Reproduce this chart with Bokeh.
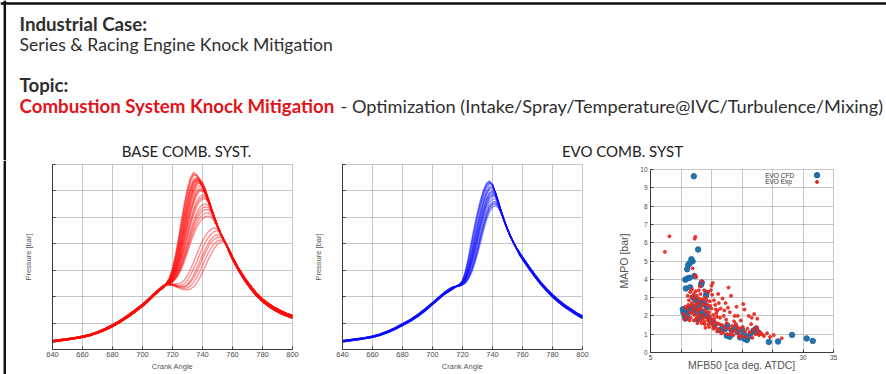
from bokeh.plotting import figure
from bokeh.layouts import column, row
from bokeh.models import Range1d, ColumnDataSource, FixedTicker, Label, Span
from bokeh.embed import file_html
from bokeh.resources import INLINE

# ---------------- slide text ----------------
case_heading = "Industrial Case:"
case_text = "Series & Racing Engine Knock Mitigation"
topic_heading = "Topic:"
topic_red = "Combustion System Knock Mitigation"
topic_rest = "- Optimization (Intake/Spray/Temperature@IVC/Turbulence/Mixing)"
panel_titles = ["BASE COMB. SYST.", "EVO COMB. SYST"]

# ---------------- cylinder pressure traces [bar] vs crank angle ----------------
crank_ticks = [640, 660, 680, 700, 720, 740, 760, 780, 800]
pressure_ticks = [0, 10, 20, 30, 40, 50, 60, 70]

comp_angles = [640, 645, 650, 655, 660, 665, 670, 675, 680, 685, 690, 695, 700, 704, 708, 712, 714]
burn_angles = [716, 718, 720, 722, 724, 726, 728, 730, 732, 734, 736, 738, 740, 742, 744, 746, 748, 750, 752, 754, 756]
tail_angles = [758, 760, 764, 768, 772, 776, 780, 784, 788, 792, 796, 800]

# base combustion system: compression (3 cycle spreads), combustion per cycle, expansion (3 spreads)
base_comp = [
    [2.9, 3.3, 3.7, 4.1, 4.6, 5.3, 6.2, 7.3, 8.7, 10.3, 12.1, 14.2, 16.4, 18.4, 20.6, 22.6, 23.5],
    [3.1, 3.5, 3.9, 4.3, 4.8, 5.5, 6.4, 7.6, 9.0, 10.6, 12.5, 14.6, 16.8, 18.8, 21.0, 23.0, 23.8],
    [3.3, 3.7, 4.1, 4.5, 5.0, 5.7, 6.7, 7.9, 9.3, 10.9, 12.8, 14.9, 17.1, 19.1, 21.3, 23.3, 24.1],
]
base_burn = [
    [25.2, 27.2, 30.8, 35.8, 42.0, 49.0, 55.5, 61.0, 65.0, 67.0, 66.2, 64.3, 61.8, 59.0, 55.8, 52.6, 49.5, 46.7, 44.1, 41.7, 39.6],
    [25.1, 27.0, 30.4, 35.2, 41.2, 48.1, 54.6, 60.2, 64.3, 66.4, 66.0, 64.2, 61.8, 59.0, 55.8, 52.6, 49.5, 46.7, 44.1, 41.7, 39.6],
    [25.1, 26.8, 30.0, 34.6, 40.5, 47.2, 53.8, 59.3, 63.6, 65.9, 65.8, 64.2, 61.8, 59.0, 55.9, 52.7, 49.6, 46.7, 44.1, 41.7, 39.6],
    [25.0, 26.5, 29.4, 33.6, 39.2, 45.5, 51.8, 57.4, 61.8, 64.4, 65.0, 63.9, 61.7, 58.9, 55.8, 52.6, 49.5, 46.6, 44.0, 41.6, 39.5],
    [25.0, 26.4, 29.1, 33.2, 38.6, 44.7, 51.0, 56.6, 61.0, 63.8, 64.5, 63.6, 61.5, 58.8, 55.8, 52.6, 49.5, 46.6, 44.0, 41.6, 39.5],
    [25.0, 26.3, 28.9, 32.8, 38.0, 44.0, 50.2, 55.8, 60.3, 63.2, 64.0, 63.3, 61.4, 58.8, 55.8, 52.7, 49.6, 46.7, 44.1, 41.7, 39.6],
    [24.9, 26.0, 28.3, 31.8, 36.6, 42.4, 48.6, 54.4, 59.3, 62.9, 64.7, 64.8, 63.3, 60.6, 57.0, 53.3, 49.9, 46.9, 44.2, 41.8, 39.6],
    [24.9, 25.9, 28.1, 31.5, 36.1, 41.7, 47.7, 53.4, 58.2, 61.8, 63.7, 63.9, 62.6, 60.2, 56.8, 53.2, 49.8, 46.8, 44.1, 41.7, 39.5],
    [24.9, 25.9, 28.0, 31.2, 35.6, 41.0, 46.8, 52.4, 57.2, 60.8, 62.8, 63.1, 62.0, 59.8, 56.7, 53.2, 49.8, 46.8, 44.1, 41.7, 39.5],
    [24.9, 25.8, 27.7, 30.7, 34.9, 40.1, 45.9, 51.6, 56.6, 60.6, 63.1, 64.0, 63.0, 60.4, 56.9, 53.3, 49.9, 46.8, 44.2, 41.7, 39.6],
    [24.8, 25.7, 27.5, 30.3, 34.3, 39.3, 44.9, 50.5, 55.4, 59.4, 61.9, 63.0, 62.3, 60.0, 56.8, 53.3, 49.9, 46.8, 44.1, 41.7, 39.5],
    [24.8, 25.6, 27.3, 30.0, 33.8, 38.6, 44.0, 49.4, 54.3, 58.2, 60.8, 62.0, 61.6, 59.7, 56.8, 53.3, 49.9, 46.8, 44.1, 41.7, 39.5],
    [24.8, 25.5, 27.0, 29.5, 33.0, 37.6, 42.8, 48.0, 52.8, 56.8, 59.6, 60.9, 60.7, 59.2, 56.5, 53.2, 49.8, 46.7, 44.0, 41.6, 39.5],
    [24.8, 25.4, 26.8, 29.2, 32.6, 37.0, 42.0, 47.2, 52.0, 56.0, 58.9, 60.3, 60.4, 59.0, 56.4, 53.2, 49.8, 46.8, 44.1, 41.6, 39.5],
    [24.8, 25.4, 26.7, 28.9, 32.2, 36.4, 41.3, 46.4, 51.2, 55.3, 58.2, 59.8, 60.0, 58.8, 56.4, 53.2, 49.9, 46.8, 44.1, 41.6, 39.5],
    [24.8, 25.3, 26.5, 28.5, 31.4, 35.2, 39.7, 44.5, 49.1, 53.1, 56.0, 57.8, 58.5, 58.1, 56.2, 53.1, 49.8, 46.7, 44.0, 41.6, 39.5],
    [24.7, 25.2, 26.3, 28.2, 31.0, 34.6, 38.9, 43.5, 48.0, 52.0, 55.0, 56.8, 57.7, 57.5, 55.9, 53.0, 49.8, 46.8, 44.1, 41.6, 39.5],
    [24.7, 25.2, 26.2, 28.0, 30.6, 34.0, 38.1, 42.6, 47.0, 50.9, 53.9, 55.9, 56.9, 57.0, 55.6, 52.9, 49.8, 46.8, 44.1, 41.7, 39.6],
    [24.7, 25.1, 26.0, 27.5, 29.8, 32.9, 36.6, 40.7, 44.8, 48.5, 51.5, 53.6, 54.8, 55.0, 54.4, 52.5, 49.6, 46.7, 44.0, 41.6, 39.5],
    [24.7, 25.0, 25.9, 27.3, 29.4, 32.3, 35.8, 39.7, 43.7, 47.3, 50.2, 52.3, 53.6, 53.9, 53.7, 52.0, 49.4, 46.6, 44.0, 41.6, 39.5],
    [24.7, 25.0, 25.8, 27.1, 29.1, 31.8, 35.1, 38.8, 42.6, 46.1, 49.0, 51.1, 52.4, 52.9, 53.0, 51.6, 49.2, 46.5, 43.9, 41.6, 39.5],
    [24.7, 24.9, 25.6, 26.8, 28.7, 31.2, 34.3, 37.8, 41.4, 44.7, 47.5, 49.6, 50.9, 51.6, 51.7, 50.8, 48.8, 46.3, 43.8, 41.5, 39.4],
    [24.7, 24.9, 25.5, 26.6, 28.3, 30.6, 33.5, 36.8, 40.2, 43.4, 46.1, 48.1, 49.5, 50.3, 50.5, 50.0, 48.4, 46.1, 43.7, 41.4, 39.4],
    [24.6, 24.7, 24.8, 24.8, 24.9, 25.3, 26.3, 28.0, 30.3, 33.0, 35.8, 38.5, 41.0, 43.0, 44.6, 45.6, 46.0, 45.6, 44.0, 41.8, 39.6],
    [24.6, 24.6, 24.6, 24.4, 24.2, 24.3, 24.9, 26.2, 28.1, 30.5, 33.1, 35.8, 38.4, 40.6, 42.4, 43.8, 44.7, 45.0, 44.2, 42.0, 39.7],
    [24.6, 24.6, 24.5, 24.2, 23.8, 23.6, 23.8, 24.6, 26.1, 28.2, 30.6, 33.2, 35.8, 38.2, 40.3, 41.9, 43.0, 43.5, 43.2, 41.8, 39.7],
    [24.6, 24.6, 24.5, 24.3, 24.0, 23.8, 23.8, 24.3, 25.4, 27.0, 29.1, 31.6, 34.2, 36.7, 38.9, 40.6, 41.8, 42.4, 42.5, 41.6, 39.7],
    [24.6, 24.5, 24.3, 24.0, 23.6, 23.3, 23.2, 23.4, 24.1, 25.3, 27.1, 29.3, 31.8, 34.3, 36.7, 38.6, 40.1, 41.1, 41.5, 41.1, 39.6],
    [24.6, 24.5, 24.2, 23.8, 23.3, 22.9, 22.6, 22.6, 22.9, 23.7, 25.0, 26.9, 29.2, 31.7, 34.2, 36.5, 38.4, 39.8, 40.7, 40.8, 39.6],
]
base_tail = [
    [36.6, 34.2, 29.9, 26.2, 23.1, 20.3, 18.1, 16.4, 14.9, 13.7, 12.7, 11.9],
    [37.0, 34.6, 30.3, 26.7, 23.6, 20.8, 18.6, 16.9, 15.4, 14.2, 13.2, 12.4],
    [37.4, 35.0, 30.8, 27.2, 24.1, 21.3, 19.1, 17.4, 15.9, 14.7, 13.7, 12.9],
]
base_spread = [1, 2, 0, 2, 0, 1, 0, 1, 2, 1, 0, 2, 0, 2, 1, 2, 1, 0, 1, 0, 2, 1, 0, 1, 0, 2, 1, 0, 2]

# evolved combustion system
evo_comp = [
    [2.9, 3.3, 3.7, 4.1, 4.6, 5.4, 6.4, 7.6, 9.1, 10.6, 12.4, 14.6, 17.0, 19.0, 20.9, 22.4, 23.1],
    [3.1, 3.5, 3.9, 4.3, 4.8, 5.6, 6.6, 7.9, 9.4, 10.9, 12.8, 15.0, 17.4, 19.4, 21.3, 22.8, 23.4],
    [3.3, 3.7, 4.1, 4.5, 5.0, 5.8, 6.9, 8.2, 9.7, 11.2, 13.1, 15.3, 17.7, 19.7, 21.6, 23.1, 23.7],
]
evo_burn = [
    [24.0, 24.6, 26.0, 29.8, 35.0, 41.0, 46.8, 52.0, 56.6, 60.4, 63.0, 63.8, 62.3, 59.0, 55.2, 51.6, 48.3, 45.3, 42.7, 40.3, 38.2],
    [24.0, 24.5, 25.9, 29.4, 34.3, 40.0, 45.8, 51.1, 55.8, 59.7, 62.5, 63.5, 62.3, 59.0, 55.2, 51.6, 48.3, 45.3, 42.7, 40.3, 38.2],
    [24.0, 24.5, 25.8, 29.0, 33.6, 39.0, 44.8, 50.2, 55.0, 59.0, 62.0, 63.2, 62.4, 59.1, 55.3, 51.7, 48.4, 45.4, 42.8, 40.4, 38.3],
    [24.0, 24.5, 25.6, 28.2, 32.4, 37.6, 43.2, 48.6, 53.6, 57.9, 61.2, 62.9, 62.3, 59.2, 55.4, 51.7, 48.4, 45.4, 42.8, 40.4, 38.3],
    [24.0, 24.5, 25.5, 27.8, 31.6, 36.4, 41.8, 47.0, 52.0, 56.4, 59.8, 61.8, 62.0, 59.5, 55.6, 51.8, 48.4, 45.4, 42.8, 40.4, 38.3],
    [24.0, 24.4, 25.4, 27.6, 31.2, 35.8, 41.1, 46.3, 51.3, 55.7, 59.1, 61.2, 61.5, 59.3, 55.6, 51.8, 48.4, 45.4, 42.8, 40.4, 38.3],
    [24.0, 24.4, 25.3, 27.4, 30.8, 35.3, 40.4, 45.6, 50.6, 55.0, 58.5, 60.6, 61.0, 59.2, 55.6, 51.9, 48.5, 45.5, 42.9, 40.4, 38.3],
    [24.0, 24.4, 25.2, 27.0, 30.1, 34.2, 39.0, 44.0, 49.0, 53.5, 57.1, 59.4, 60.0, 58.9, 55.6, 51.9, 48.5, 45.5, 42.9, 40.5, 38.3],
    [23.9, 24.3, 25.1, 26.8, 29.8, 33.8, 38.5, 43.5, 48.4, 52.9, 56.6, 59.0, 59.6, 58.6, 55.5, 51.9, 48.5, 45.5, 42.9, 40.5, 38.3],
    [23.9, 24.3, 25.0, 26.6, 29.4, 33.2, 37.7, 42.6, 47.5, 52.0, 55.8, 58.3, 59.0, 58.3, 55.4, 51.8, 48.5, 45.5, 42.8, 40.4, 38.3],
    [23.9, 24.3, 24.9, 26.4, 29.1, 32.7, 37.1, 41.9, 46.7, 51.2, 55.0, 57.6, 58.5, 58.0, 55.3, 51.8, 48.5, 45.5, 42.8, 40.4, 38.3],
    [23.9, 24.3, 24.9, 26.3, 28.8, 32.3, 36.5, 41.2, 46.0, 50.5, 54.3, 56.9, 58.0, 57.8, 55.2, 51.8, 48.5, 45.5, 42.9, 40.5, 38.3],
    [23.9, 24.2, 24.8, 26.0, 28.2, 31.4, 35.3, 39.8, 44.5, 49.0, 52.9, 55.7, 56.9, 57.0, 54.9, 51.7, 48.4, 45.5, 42.9, 40.5, 38.3],
    [23.9, 24.2, 24.7, 25.7, 27.6, 30.5, 34.2, 38.5, 43.1, 47.6, 51.5, 54.4, 55.8, 56.0, 54.5, 51.6, 48.4, 45.4, 42.8, 40.4, 38.3],
    [23.8, 24.1, 24.6, 25.5, 27.3, 30.1, 33.6, 37.8, 42.4, 46.9, 50.8, 53.8, 55.2, 55.5, 54.2, 51.5, 48.3, 45.4, 42.8, 40.4, 38.3],
    [23.8, 24.1, 24.5, 25.4, 27.1, 29.7, 33.1, 37.2, 41.7, 46.2, 50.2, 53.2, 54.7, 55.0, 54.0, 51.4, 48.3, 45.4, 42.8, 40.4, 38.3],
    [23.8, 24.0, 24.4, 25.1, 26.6, 29.0, 32.2, 36.1, 40.5, 45.0, 49.0, 52.1, 53.9, 54.4, 53.6, 51.2, 48.2, 45.3, 42.7, 40.4, 38.3],
]
evo_tail = [
    [35.9, 34.1, 30.8, 27.7, 24.8, 22.2, 19.9, 17.9, 16.1, 14.6, 13.1, 11.8],
    [36.3, 34.5, 31.2, 28.1, 25.2, 22.6, 20.3, 18.3, 16.5, 15.0, 13.5, 12.2],
    [36.7, 34.9, 31.6, 28.5, 25.6, 23.0, 20.7, 18.7, 16.9, 15.4, 13.9, 12.6],
]
evo_spread = [1, 2, 0, 0, 2, 1, 1, 2, 1, 0, 2, 1, 0, 2, 0, 1, 2]

# ---------------- knock intensity vs combustion phasing ----------------
mfb50_labelled = [5, 30, 35]
mfb50_unlabelled = [10, 15, 20, 25]
mapo_ticks = [0, 1, 2, 3, 4, 5, 6, 7, 8, 9, 10]
legend_names = ["EVO CFD", "EVO Exp"]

# (MFB50 [ca deg ATDC], MAPO [bar])
cfd_points = [
    (12.1, 9.63), (12.8, 5.63), (11.7, 5.1), (11.9, 4.98), (11.4, 4.88), (11.2, 4.78), (11.0, 4.55),
    (10.7, 3.98), (11.0, 4.04), (11.4, 4.08), (12.2, 4.18), (13.4, 3.82), (13.3, 3.7), (10.8, 3.5),
    (11.5, 3.56), (14.2, 3.26), (14.1, 3.1), (12.0, 3.0), (12.4, 2.88), (12.8, 2.76), (13.2, 2.7),
    (13.6, 2.74), (14.0, 2.6), (14.3, 2.46), (10.3, 2.36), (10.4, 2.18), (10.6, 2.04), (10.9, 2.3),
    (11.1, 2.14), (11.3, 2.4), (11.0, 1.9), (10.7, 1.86), (11.6, 2.28), (11.9, 2.52), (12.2, 2.38),
    (12.5, 2.18), (12.9, 2.44), (13.3, 2.24), (13.7, 2.04), (13.1, 1.94), (12.7, 1.8), (14.1, 2.1),
    (14.5, 1.9), (14.8, 1.76), (15.2, 1.62), (15.5, 1.5), (16.3, 1.22), (16.8, 1.36), (17.2, 1.28),
    (17.6, 1.48), (17.5, 0.92), (18.0, 0.86), (18.3, 1.2), (18.9, 1.36), (19.3, 1.1), (19.7, 0.82),
    (20.0, 1.26), (20.3, 0.98), (20.5, 0.74), (20.8, 0.68), (21.1, 0.86), (21.4, 1.04), (21.9, 1.2),
    (22.3, 1.3), (22.6, 1.1), (24.4, 0.58), (25.9, 0.6), (28.2, 0.96), (30.6, 0.77), (31.6, 0.63),
]
exp_points = [
    (7.35, 5.5), (8.1, 6.35), (12.25, 6.22), (12.35, 6.32), (12.3, 4.22), (12.5, 4.12), (11.9, 4.6),
    (13.4, 3.9), (13.1, 3.62), (11.5, 3.3), (11.8, 3.45), (12.1, 3.2), (12.4, 3.35), (11.7, 3.05),
    (12.2, 2.95), (12.6, 3.1), (11.3, 2.85), (12.9, 3.4), (13.0, 2.95), (10.4, 2.1), (10.7, 2.5),
    (10.9, 1.95), (11.2, 2.6), (11.4, 2.2), (11.6, 1.9), (11.8, 2.7), (12.0, 2.35), (12.2, 2.05),
    (12.4, 2.6), (12.5, 1.85), (12.7, 2.3), (12.9, 2.75), (13.0, 2.1), (13.2, 1.75), (10.6, 1.8),
    (11.0, 2.4), (11.9, 2.15), (12.3, 2.45), (12.8, 1.95), (13.3, 2.5), (13.5, 2.9), (13.6, 2.0),
    (13.8, 1.7), (13.9, 2.35), (14.0, 3.0), (14.2, 1.9), (14.3, 2.6), (14.5, 1.55), (14.6, 2.2),
    (14.7, 2.8), (14.9, 1.8), (15.0, 2.4), (15.1, 3.15), (15.2, 1.5), (15.3, 2.05), (15.5, 1.7),
    (15.6, 2.6), (15.7, 1.35), (15.9, 1.95), (16.0, 2.3), (13.4, 1.6), (13.7, 2.65), (14.1, 2.2),
    (14.4, 1.75), (14.8, 2.55), (15.4, 1.85), (15.8, 2.15), (15.1, 1.6), (14.6, 1.4), (13.9, 1.55),
    (15.4, 2.85), (16.0, 1.6), (14.9, 3.4), (15.2, 3.8), (15.0, 3.65), (16.1, 3.2), (16.3, 1.25),
    (16.4, 1.9), (16.5, 2.4), (16.7, 1.5), (16.9, 1.1), (17.0, 2.0), (17.2, 1.35), (17.3, 2.7),
    (17.5, 1.6), (17.6, 1.0), (17.8, 3.55), (17.9, 1.3), (18.0, 2.2), (18.2, 3.1), (18.3, 1.15),
    (18.4, 1.45), (18.6, 0.95), (18.7, 1.7), (18.9, 1.2), (19.1, 2.5), (19.2, 1.4), (19.4, 1.05),
    (19.6, 1.3), (19.8, 1.75), (20.0, 0.9), (20.2, 2.65), (20.4, 2.35), (20.5, 1.15), (16.6, 1.05),
    (17.1, 2.3), (17.4, 1.8), (18.1, 1.0), (18.8, 2.0), (19.5, 0.85), (16.2, 2.7), (16.8, 2.95),
    (19.0, 1.55), (20.1, 1.4), (20.7, 0.85), (20.9, 1.3), (21.1, 2.0), (21.3, 1.1), (21.5, 1.55),
    (21.7, 0.8), (21.9, 1.25), (22.0, 2.1), (22.2, 1.0), (22.4, 1.4), (22.6, 1.2), (22.8, 0.95),
    (23.0, 1.1), (23.3, 1.0), (23.6, 0.9), (24.1, 1.05), (24.6, 0.85), (25.2, 0.95), (26.5, 0.78),
    (22.5, 1.85), (21.6, 1.9), (11.1, 3.1), (11.6, 2.55), (12.1, 1.75), (12.6, 2.65), (13.1, 2.35),
    (13.6, 1.85), (14.2, 2.85), (14.7, 2.0), (15.3, 1.3), (15.7, 2.35), (13.2, 3.2), (14.4, 3.3),
    (12.7, 1.6), (11.4, 1.75), (13.8, 3.4), (16.3, 1.55), (17.7, 2.45), (19.3, 2.0), (14.0, 1.35),
    (15.9, 1.15),
]

# ---------------- styling ----------------
SLIDE_FONT = "Lato"
PLOT_FONT = "Liberation Sans"
TEXT_DARK = "#2f2f2f"
TEXT_RED = "#e3131b"
GRID_GREY = "#8e8e8e"
AXIS_DARK = "#3a3a3a"
CFD_BLUE = "#1f6aa5"
EXP_RED = "#e8281e"
HEADER_H = 160
ROW_H = 214


def bare_canvas(width, height):
    """Figure whose frame is the whole canvas, addressed in pixel-like units (y downwards)."""
    p = figure(width=width, height=height, x_range=Range1d(0, width), y_range=Range1d(height, 0),
               x_axis_location=None, y_axis_location=None, toolbar_location=None,
               output_backend="svg", min_border=0, title=None)
    p.grid.visible = False
    p.outline_line_color = None
    return p


def slide_text(p, x, y, text, size, color=TEXT_DARK, bold=False, align="left"):
    # y is the vertical middle of the line of text
    p.add_layout(Label(x=x, y=y, text=text, text_font=SLIDE_FONT, text_font_size=f"{size}px",
                       text_font_style="bold" if bold else "normal", text_color=color,
                       text_align=align, text_baseline="middle"))


def matlab_axes(p, xticker, yticker, xgrid, ygrid, tick_size, label_size):
    p.xaxis.ticker = xticker
    p.yaxis.ticker = yticker
    p.xgrid.ticker = FixedTicker(ticks=xgrid)
    p.ygrid.ticker = FixedTicker(ticks=ygrid)
    p.grid.grid_line_color = GRID_GREY
    p.grid.grid_line_dash = "1 1"
    p.grid.grid_line_width = 1
    p.outline_line_color = GRID_GREY
    p.outline_line_dash = "1 1"
    p.axis.axis_line_color = AXIS_DARK
    p.axis.major_tick_line_color = AXIS_DARK
    p.axis.major_tick_in = 3
    p.axis.major_tick_out = 0
    p.axis.minor_tick_line_color = AXIS_DARK
    p.axis.minor_tick_in = 3
    p.axis.minor_tick_out = 0
    p.axis.major_label_text_font = PLOT_FONT
    p.axis.major_label_text_font_size = tick_size
    p.axis.major_label_text_color = "#4a4a4a"
    p.axis.axis_label_text_font = PLOT_FONT
    p.axis.axis_label_text_font_size = label_size
    p.axis.axis_label_text_font_style = "normal"
    p.axis.axis_label_text_color = "#555555"


def pressure_panel(width, border_left, comp, burn, tail, spread, color):
    xs, ys = [], []
    for cycle, k in zip(burn, spread):
        xs.append(comp_angles + burn_angles + tail_angles)
        ys.append(comp[k] + cycle + tail[k])
    p = figure(width=width, height=ROW_H, x_range=Range1d(640, 800), y_range=Range1d(0, 70),
               min_border_left=border_left, min_border_right=18, min_border_top=4, min_border_bottom=25,
               toolbar_location=None, output_backend="svg", title=None)
    p.multi_line(xs="xs", ys="ys", source=ColumnDataSource(dict(xs=xs, ys=ys)),
                 line_color=color, line_alpha=0.45, line_width=1.4)
    # pressure scale is unlabelled: ticks without numbers
    matlab_axes(p, FixedTicker(ticks=crank_ticks), FixedTicker(ticks=[], minor_ticks=pressure_ticks),
                crank_ticks, pressure_ticks, "7.5px", "7.5px")
    p.xaxis.axis_label = "Crank Angle"
    p.yaxis.axis_label = "Pressure [bar]"
    p.xaxis.major_label_standoff = 2
    p.xaxis.axis_label_standoff = 2
    p.yaxis.major_label_standoff = 0
    p.yaxis.axis_label_standoff = 20
    return p


# ---------------- header ----------------
header = bare_canvas(886, HEADER_H)
header.add_layout(Span(location=3, dimension="width", line_color="#111111", line_width=2.5))
header.add_layout(Span(location=4.3, dimension="height", line_color="#111111", line_width=2.5))
slide_text(header, 19, 23, case_heading, 18.7, bold=True)
slide_text(header, 19, 44, case_text, 17.6)
slide_text(header, 19, 84.5, topic_heading, 18.7, bold=True)
slide_text(header, 19, 105, topic_red, 18.7, color=TEXT_RED, bold=True)
slide_text(header, 340, 105, topic_rest, 18.2)
slide_text(header, 186, 150.5, panel_titles[0], 15, color="#222222", align="center")
slide_text(header, 622, 150.5, panel_titles[1], 15, color="#222222", align="center")

spacer = bare_canvas(6, ROW_H)
spacer.add_layout(Span(location=4.3, dimension="height", line_color="#111111", line_width=2.5))

# ---------------- pressure panels ----------------
base_panel = pressure_panel(304, 46, base_comp, base_burn, base_tail, base_spread, "#ff0a0a")
evo_panel = pressure_panel(290, 32, evo_comp, evo_burn, evo_tail, evo_spread, "#0a0aff")

# ---------------- MAPO vs MFB50 scatter ----------------
sc = figure(width=286, height=ROW_H, x_range=Range1d(5, 35), y_range=Range1d(0, 10),
            min_border_left=50, min_border_right=53, min_border_top=9, min_border_bottom=22,
            toolbar_location=None, output_backend="svg", title=None)
sc.scatter([p[0] for p in cfd_points], [p[1] for p in cfd_points], size=5.5,
           fill_color=CFD_BLUE, line_color=CFD_BLUE, alpha=0.95)
sc.scatter([p[0] for p in exp_points], [p[1] for p in exp_points], size=3,
           fill_color=EXP_RED, line_color=EXP_RED, alpha=0.9)
matlab_axes(sc, FixedTicker(ticks=mfb50_labelled, minor_ticks=mfb50_unlabelled),
            FixedTicker(ticks=mapo_ticks), sorted(mfb50_labelled + mfb50_unlabelled), mapo_ticks,
            "6.5px", "10.5px")
sc.xaxis.major_label_standoff = 2
sc.xaxis.axis_label = "MFB50 [ca deg. ATDC]"
sc.xaxis.axis_label_standoff = -4
sc.yaxis.major_label_standoff = 3
sc.yaxis.axis_label = "MAPO [bar]"
sc.yaxis.axis_label_standoff = 7
# legend, keys on the right of the names
for name, ly in zip(legend_names, [9.69, 9.32]):
    sc.add_layout(Label(x=23.8, y=ly, text=name, text_font=PLOT_FONT, text_font_size="6.5px",
                        text_color="#333333", text_baseline="middle"))
sc.scatter([32.3, 32.3], [9.69, 9.32], size=[5.5, 3], fill_color=[CFD_BLUE, EXP_RED],
           line_color=[CFD_BLUE, EXP_RED])

# each panel wrapped on its own so that the frames keep their own margins
panels = row(column(spacer), column(base_panel), column(evo_panel), column(sc))
layout = column(header, panels)
open("out.html", "w").write(file_html(layout, INLINE, title="Knock Mitigation"))
